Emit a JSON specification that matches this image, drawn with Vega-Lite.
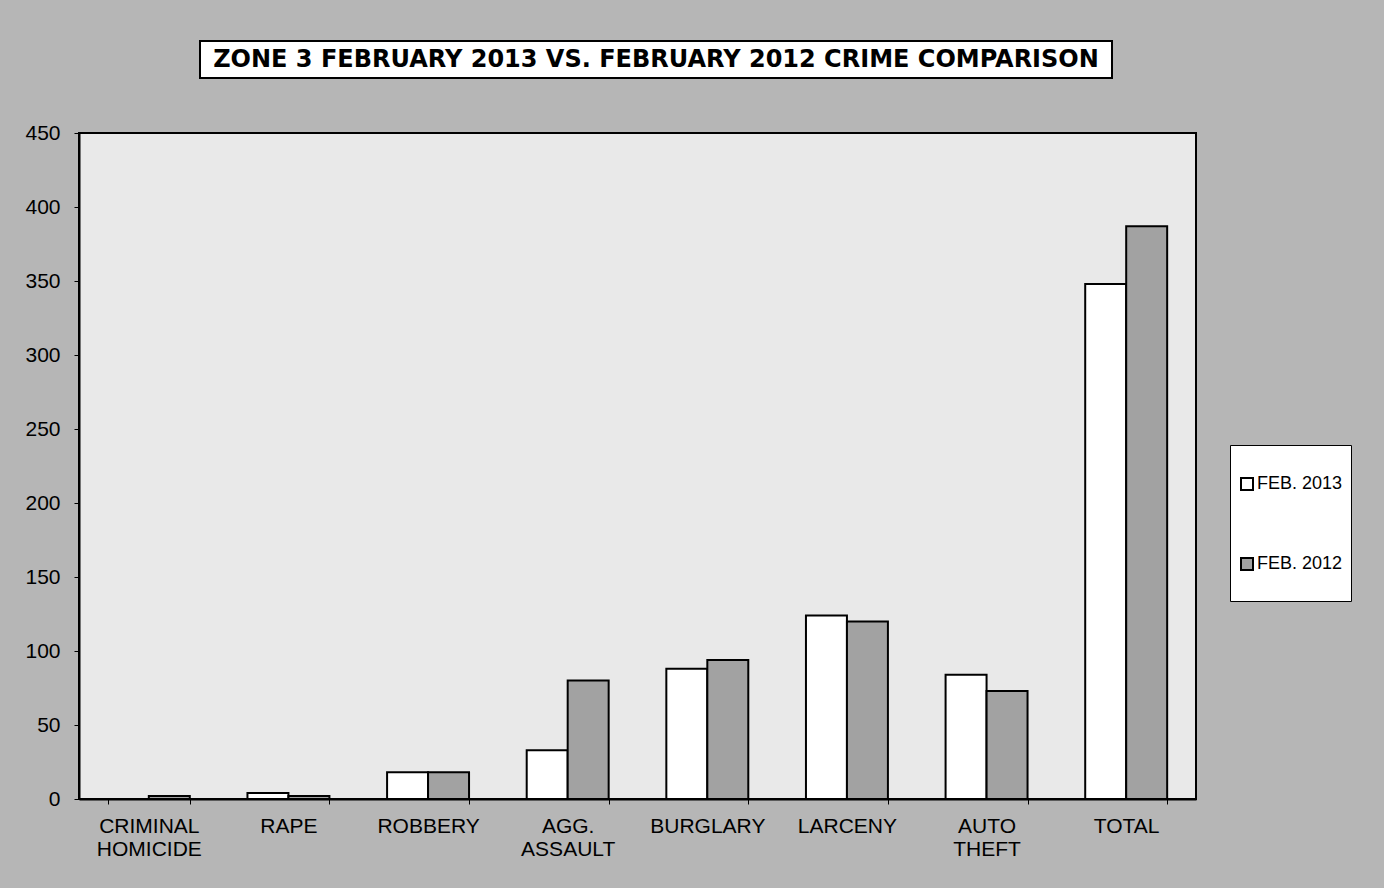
{
  "$schema": "https://vega.github.io/schema/vega-lite/v6.json",
  "background": "#b6b6b6",
  "padding": {"left": 23, "top": 40, "right": 33, "bottom": 29},
  "bounds": "flush",
  "spacing": 92,
  "config": {
    "font": "Liberation Sans",
    "view": {"stroke": "black", "strokeWidth": 2}
  },
  "vconcat": [
    {
      "bounds": "flush",
      "spacing": 10,
      "hconcat": [
        {
          "width": 111,
          "height": 37,
          "view": {"fill": null, "stroke": null},
          "data": {"values": []},
          "mark": {"type": "text"},
          "encoding": {}
        },
        {
          "width": 912,
          "height": 37,
          "view": {"fill": "white", "stroke": "black", "strokeWidth": 2},
          "data": {"values": [{"title": "ZONE 3  FEBRUARY 2013 VS. FEBRUARY 2012 CRIME COMPARISON"}]},
          "mark": {"type": "text", "font": "DejaVu Sans", "fontWeight": "bold", "fontSize": 24, "color": "black", "align": "center", "baseline": "middle"},
          "encoding": {"text": {"field": "title"}}
        }
      ]
    },
    {
      "width": 1117,
      "height": 666,
      "view": {"fill": "#e9e9e9", "stroke": "black", "strokeWidth": 2},
      "data": {"values": [
        {"crime": "CRIMINAL HOMICIDE", "period": "FEB. 2013", "count": 0},
        {"crime": "CRIMINAL HOMICIDE", "period": "FEB. 2012", "count": 2},
        {"crime": "RAPE", "period": "FEB. 2013", "count": 4},
        {"crime": "RAPE", "period": "FEB. 2012", "count": 2},
        {"crime": "ROBBERY", "period": "FEB. 2013", "count": 18},
        {"crime": "ROBBERY", "period": "FEB. 2012", "count": 18},
        {"crime": "AGG. ASSAULT", "period": "FEB. 2013", "count": 33},
        {"crime": "AGG. ASSAULT", "period": "FEB. 2012", "count": 80},
        {"crime": "BURGLARY", "period": "FEB. 2013", "count": 88},
        {"crime": "BURGLARY", "period": "FEB. 2012", "count": 94},
        {"crime": "LARCENY", "period": "FEB. 2013", "count": 124},
        {"crime": "LARCENY", "period": "FEB. 2012", "count": 120},
        {"crime": "AUTO THEFT", "period": "FEB. 2013", "count": 84},
        {"crime": "AUTO THEFT", "period": "FEB. 2012", "count": 73},
        {"crime": "TOTAL", "period": "FEB. 2013", "count": 348},
        {"crime": "TOTAL", "period": "FEB. 2012", "count": 387}
      ]},
      "mark": {"type": "bar", "stroke": "black", "strokeWidth": 2},
      "encoding": {
        "x": {
          "field": "crime", "type": "nominal", "sort": null,
          "scale": {"paddingInner": 0.413, "paddingOuter": 0.2065},
          "axis": {
            "title": null, "labelAngle": 0, "labelExpr": "split(datum.label, ' ')",
            "labelFontSize": 21, "labelColor": "black", "labelLineHeight": 23,
            "labelPadding": 11, "tickSize": 5, "tickBand": "extent",
            "tickColor": "black", "domainColor": "black", "domainWidth": 2, "labelBaseline": "top"
          }
        },
        "xOffset": {"field": "period", "type": "nominal", "sort": ["FEB. 2013", "FEB. 2012"]},
        "y": {
          "field": "count", "type": "quantitative",
          "scale": {"domain": [0, 450], "nice": false},
          "axis": {
            "title": null, "values": [0, 50, 100, 150, 200, 250, 300, 350, 400, 450],
            "grid": false, "labelFontSize": 21, "labelColor": "black",
            "labelPadding": 14, "tickSize": 5, "tickColor": "black",
            "domainColor": "black", "domainWidth": 2
          }
        },
        "fill": {
          "field": "period", "type": "nominal", "sort": ["FEB. 2013", "FEB. 2012"],
          "scale": {"domain": ["FEB. 2013", "FEB. 2012"], "range": ["#ffffff", "#a2a2a2"]},
          "legend": {
            "title": " ", "titleFontSize": 12, "titlePadding": 10,
            "orient": "none", "legendX": 1151, "legendY": 404,
            "fillColor": "white", "strokeColor": "black",
            "padding": 8, "symbolType": "square", "symbolSize": 144,
            "symbolStrokeColor": "black", "symbolStrokeWidth": 2,
            "labelFontSize": 18, "labelColor": "black", "labelOffset": 1,
            "labelExpr": "[datum.label, ' ']",
            "rowPadding": 41
          }
        }
      }
    }
  ]
}
